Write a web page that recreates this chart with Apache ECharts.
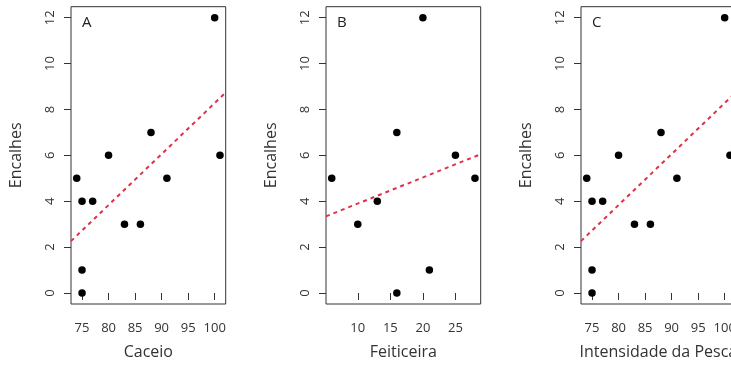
<!DOCTYPE html>
<html><head><meta charset="utf-8">
<script src="https://cdn.jsdelivr.net/npm/echarts@6/dist/echarts.min.js"></script>
<style>html,body{margin:0;padding:0;background:#fff;overflow:hidden;width:731px;height:365px}#c{width:770px;height:365px}</style>
</head><body><div id="c"></div>
<script>
// Data
const caceio = [74, 75, 77, 75, 75, 80, 83, 86, 88, 91, 100, 101];
const encalhesA = [5, 4, 4, 1, 0, 6, 3, 3, 7, 5, 12, 6];
const feiticeira = [6, 10, 13, 16, 16, 20, 21, 25, 28];
const encalhesB = [5, 3, 4, 7, 0, 12, 1, 6, 5];
const intensidade = [74, 75, 77, 75, 75, 80, 83, 86, 88, 91, 100, 101];
const encalhesC = [5, 4, 4, 1, 0, 6, 3, 3, 7, 5, 12, 6];
// fitted line endpoints
const fitA = [[72.92, 2.26], [102.08, 8.74]];
const fitB = [[5.12, 3.34], [28.88, 6.05]];
const fitC = [[72.92, 2.26], [102.08, 8.74]];
// ticks
const ticksX1 = [75, 80, 85, 90, 95, 100];
const ticksX2 = [10, 15, 20, 25];
const ticksY = [0, 2, 4, 6, 8, 10, 12];
const xNames = ['Caceio', 'Feiticeira', 'Intensidade da Pesca'];
const letters = ['A', 'B', 'C'];

const FONT = '"Open Sans", sans-serif';
const lefts = [71, 326, 581];
const ranges = [[72.92, 102.08], [5.12, 28.88], [72.92, 102.08]];
const xticks = [ticksX1, ticksX2, ticksX1];
const pts = [
  caceio.map((x, i) => [x, encalhesA[i]]),
  feiticeira.map((x, i) => [x, encalhesB[i]]),
  intensidade.map((x, i) => [x, encalhesC[i]])
];
const fits = [fitA, fitB, fitC];

const grid = [], xAxis = [], yAxis = [], series = [], graphic = [];
for (let k = 0; k < 3; k++) {
  grid.push({left: lefts[k], top: 6.7, width: 154.7, height: 298.6, show: true,
    borderColor: '#333', borderWidth: 1, backgroundColor: 'transparent', containLabel: false});
  xAxis.push({gridIndex: k, type: 'value', min: ranges[k][0], max: ranges[k][1],
    name: xNames[k], nameLocation: 'middle', nameGap: 40,
    nameTextStyle: {fontFamily: FONT, fontSize: 16, color: '#333'},
    axisLine: {show: false}, splitLine: {show: false},
    axisTick: {show: true, length: 7, inside: false, customValues: xticks[k], lineStyle: {color: '#333', width: 1}},
    axisLabel: {customValues: xticks[k], margin: 18, fontFamily: FONT, fontSize: 13, color: '#333', showMinLabel: true, showMaxLabel: true}
  });
  yAxis.push({gridIndex: k, type: 'value', min: -0.48, max: 12.48,
    name: 'Encalhes', nameLocation: 'middle', nameGap: 47,
    nameTextStyle: {fontFamily: FONT, fontSize: 16, color: '#333'},
    axisLine: {show: false}, splitLine: {show: false},
    axisTick: {show: true, length: 7, customValues: ticksY, lineStyle: {color: '#333', width: 1}},
    axisLabel: {customValues: ticksY, rotate: 90, margin: 14, fontFamily: FONT, fontSize: 13, color: '#333'}
  });
  series.push({type: 'line', xAxisIndex: k, yAxisIndex: k, data: fits[k], showSymbol: false,
    lineStyle: {color: '#e0304a', width: 2, type: [4, 4]}, silent: true, z: 2});
  series.push({type: 'scatter', xAxisIndex: k, yAxisIndex: k, data: pts[k], symbolSize: 7.5,
    itemStyle: {color: '#000', opacity: 1}, z: 3});
  graphic.push({type: 'text', left: lefts[k] + 11, top: 15,
    style: {text: letters[k], font: '15px ' + FONT, fill: '#222'}});
}

const chart = echarts.init(document.getElementById('c'), null, {renderer: 'canvas'});
chart.setOption({animation: false, grid, xAxis, yAxis, series, graphic});
</script>
</body></html>
